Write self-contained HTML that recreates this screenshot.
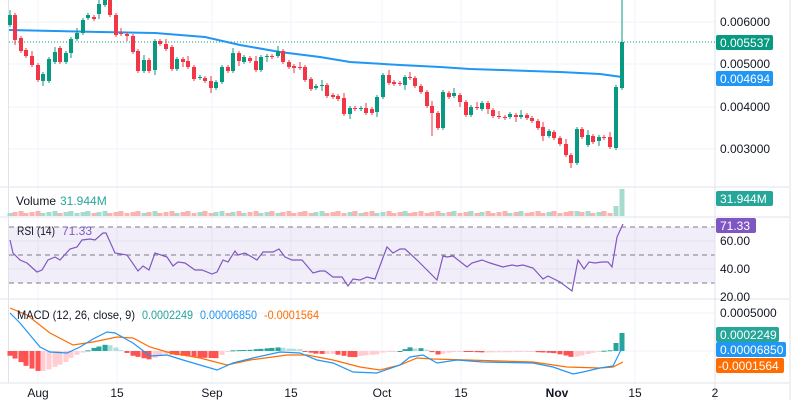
<!DOCTYPE html>
<html><head><meta charset="utf-8"><style>
html,body{margin:0;padding:0;background:#fff;width:800px;height:400px;overflow:hidden}
svg{display:block;font-family:"Liberation Sans",sans-serif}
</style></head><body>
<svg id="s" width="800" height="400" xmlns="http://www.w3.org/2000/svg">
<g stroke="#f0f3fa" stroke-width="1">
<line x1="38" y1="0" x2="38" y2="383"/><line x1="117" y1="0" x2="117" y2="383"/><line x1="212" y1="0" x2="212" y2="383"/><line x1="291" y1="0" x2="291" y2="383"/><line x1="382" y1="0" x2="382" y2="383"/><line x1="461" y1="0" x2="461" y2="383"/><line x1="557" y1="0" x2="557" y2="383"/><line x1="635" y1="0" x2="635" y2="383"/>
<line x1="9" y1="22" x2="715" y2="22"/><line x1="9" y1="64" x2="715" y2="64"/><line x1="9" y1="107" x2="715" y2="107"/><line x1="9" y1="149" x2="715" y2="149"/>
<line x1="9" y1="241" x2="715" y2="241"/><line x1="9" y1="269" x2="715" y2="269"/>
<line x1="9" y1="313" x2="715" y2="313"/><line x1="9" y1="351" x2="715" y2="351"/>
</g>
<rect x="9" y="227" width="706" height="56" fill="#7e57c2" fill-opacity="0.1"/>
<g stroke="#787b86" stroke-width="1" stroke-dasharray="5,4">
<line x1="9" y1="227" x2="715" y2="227"/><line x1="9" y1="255" x2="715" y2="255"/><line x1="9" y1="283" x2="715" y2="283"/>
</g>
<g stroke="#e0e3eb" stroke-width="1">
<line x1="0" y1="187" x2="790" y2="187"/><line x1="0" y1="217" x2="790" y2="217"/><line x1="0" y1="299" x2="790" y2="299"/><line x1="0" y1="383" x2="790" y2="383"/>
<line x1="715" y1="0" x2="715" y2="400"/><line x1="790" y1="0" x2="790" y2="400"/><line x1="8.5" y1="0" x2="8.5" y2="383"/>
</g>
<line x1="9" y1="42" x2="715" y2="42" stroke="#089981" stroke-width="1" stroke-dasharray="1,2"/>
<g id="g"></g>
<g font-size="12" fill="#131722">
<text x="720" y="26">0.006000</text><text x="720" y="68">0.005000</text><text x="720" y="111">0.004000</text><text x="720" y="153">0.003000</text>
<text x="720" y="245">60.00</text><text x="720" y="273">40.00</text><text x="720" y="301">20.00</text>
<text x="720" y="317">0.0005000</text>
</g>
<rect x="716" y="35" width="57" height="15" rx="2" fill="#089981"/><text x="720" y="47" font-size="12" fill="#fff">0.005537</text>
<rect x="716" y="71" width="57" height="15" rx="2" fill="#2196f3"/><text x="720" y="83" font-size="12" fill="#fff">0.004694</text>
<rect x="716" y="191" width="57" height="15" rx="2" fill="#26a69a"/><text x="720" y="203" font-size="12" fill="#fff">31.944M</text>
<rect x="716" y="218" width="40" height="15" rx="2" fill="#7e57c2"/><text x="720" y="230" font-size="12" fill="#fff">71.33</text>
<rect x="716" y="327" width="63" height="15" rx="2" fill="#26a69a"/><text x="720" y="339" font-size="12" fill="#fff">0.0002249</text>
<rect x="716" y="342" width="70" height="15" rx="2" fill="#2196f3"/><text x="720" y="354" font-size="12" fill="#fff">0.00006850</text>
<rect x="716" y="358" width="68" height="15" rx="2" fill="#ff6d00"/><text x="718" y="370" font-size="12" fill="#fff">-0.0001564</text>
<g font-size="12">
<text x="16" y="205" fill="#131722">Volume</text><text x="60" y="205" fill="#26a69a">31.944M</text>
<text x="17" y="235" fill="#131722" textLength="38" lengthAdjust="spacingAndGlyphs">RSI (14)</text><text x="62" y="235" fill="#7e57c2">71.33</text>
<text x="17" y="319" fill="#131722" textLength="118" lengthAdjust="spacingAndGlyphs">MACD (12, 26, close, 9)</text><text x="142" y="319" fill="#26a69a" textLength="51" lengthAdjust="spacingAndGlyphs">0.0002249</text><text x="200" y="319" fill="#2196f3" textLength="57" lengthAdjust="spacingAndGlyphs">0.00006850</text><text x="264" y="319" fill="#ff6d00" textLength="55" lengthAdjust="spacingAndGlyphs">-0.0001564</text>
</g>
<g font-size="12" fill="#131722" text-anchor="middle">
<text x="38" y="397">Aug</text><text x="117" y="397">15</text><text x="212" y="397">Sep</text><text x="291" y="397">15</text><text x="382" y="397">Oct</text><text x="461" y="397">15</text><text x="557" y="397" font-weight="bold">Nov</text><text x="635" y="397">15</text><text x="715" y="397">2</text>
</g>
</svg>
<script>
var C=[[10,25,15],[15,15,40],[21,38,51],[26,50,56],[32,56,65],[38,65,80],[43,81,74],[49,81,59],[55,62,52],[60,48,62],[66,62,53],[71,53,39],[77,39,33],[83,33,20],[88,18,15],[94,17,19],[99,14,4],[105,5,0],[110,0,15],[116,15,35],[121,33,34],[127,34,36],[133,36,52],[138,51,71],[144,71,60],[149,60,71],[155,70,41],[160,41,44],[166,44,49],[172,47,69],[177,69,59],[183,59,62],[188,61,67],[194,67,79],[200,78,77],[205,78,81],[211,81,88],[216,88,82],[222,82,67],[228,67,71],[233,71,53],[239,53,61],[244,62,57],[250,58,61],[256,61,70],[261,70,57],[267,57,56],[272,56,57],[278,56,51],[283,51,62],[289,62,67],[294,66,68],[300,67,68],[305,67,80],[311,79,89],[316,88,86],[322,86,85],[327,85,96],[333,95,97],[338,96,99],[344,98,114],[350,114,108],[355,108,109],[361,109,108],[366,108,113],[372,109,113],[377,112,97],[383,97,75],[389,75,83],[394,82,84],[400,83,84],[405,85,77],[410,77,78],[415,78,86],[421,86,92],[427,92,106],[432,106,113],[438,113,128],[443,128,92],[449,93,97],[454,96,93],[460,95,102],[466,102,115],[471,115,107],[477,107,108],[482,109,103],[488,103,109],[493,110,116],[499,116,117],[505,117,118],[510,117,114],[516,115,117],[521,117,115],[527,115,118],[532,118,121],[538,121,128],[543,127,136],[549,136,131],[554,132,138],[560,138,144],[566,144,155],[571,155,163],[577,163,129],[582,129,137],[588,145,135],[593,136,142],[599,141,137],[604,137,138],[610,137,147],[616,148,87],[622,88,42]];
var RSI=[[10,240],[13,253],[20,260],[27,263],[37,272],[42,270],[48,260],[55,257],[60,260],[70,249],[77,247],[82,240],[90,239],[95,240],[103,233],[106,233],[115,253],[127,255],[138,271],[143,266],[149,270],[155,253],[167,257],[173,266],[178,262],[185,263],[195,270],[202,270],[212,274],[217,272],[223,260],[228,262],[235,251],[238,255],[245,253],[257,260],[263,252],[273,252],[279,249],[285,257],[292,260],[302,260],[313,273],[320,271],[325,271],[333,277],[342,277],[348,286],[353,279],[360,280],[367,277],[375,279],[387,247],[393,253],[400,249],[405,249],[417,260],[427,270],[437,280],[443,256],[447,257],[453,256],[467,267],[472,263],[482,260],[490,263],[503,267],[512,265],[517,266],[523,265],[533,268],[543,279],[548,276],[560,282],[572,291],[578,260],[584,269],[589,262],[595,263],[602,262],[608,262],[612,267],[617,237],[623,224]];
var MA=[[9,30],[100,32],[155,33],[205,37],[240,45],[280,52],[320,57],[350,62],[400,65],[440,67],[470,69],[530,71],[560,72],[600,74],[622,77]];
var M=[[10,313],[20,323],[40,347],[50,352],[67,353],[80,347],[93,339],[107,332],[115,333],[133,343],[150,356],[167,355],[183,360],[200,365],[217,370],[233,363],[253,358],[280,352],[300,353],[317,360],[333,363],[353,372],[377,373],[400,365],[410,357],[423,355],[437,363],[457,360],[483,362],[533,363],[553,367],[573,374],[583,372],[600,368],[613,366],[620,352],[623,345]];
var S=[[10,308],[27,315],[50,333],[73,345],[93,342],[117,337],[133,338],[150,347],[167,352],[200,358],[227,365],[250,360],[287,355],[307,355],[333,360],[360,367],[380,370],[400,365],[417,358],[433,359],[467,360],[533,362],[567,367],[600,368],[613,367],[623,362]];
function it(a,x){for(var i=1;i<a.length;i++){if(x<=a[i][0]){var p=a[i-1],q=a[i];return p[1]+(q[1]-p[1])*(x-p[0])/(q[0]-p[0]);}}return a[a.length-1][1];}
function pl(a){return a.map(function(p){return p[0]+','+p[1]}).join(' ');}
var h='';
var prev=0;
C.forEach(function(c,i){var x=c[0];var up=c[2]<c[1];
 var vh=3+((i*7)%3);if(i==C.length-2)vh=10;if(i==C.length-1)vh=27;if(i==17||i==83||i==102)vh=5;
 h+='<rect x="'+(x-2.5)+'" y="'+(216-vh)+'" width="5" height="'+vh+'" fill="'+(up?'#a5dccf':'#f9b3b1')+'"/>';
 var hv=it(S,x)-it(M,x);var hp=351-hv*0.95;if(x==616)hp=343;if(x==622)hp=333;var v=351-hp;
 var col=v>=0?(v>=prev?'#26a69a':'#b2dfdb'):(v<=prev?'#ff5252':'#ffcdd2');prev=v;
 h+='<rect x="'+(x-2.5)+'" y="'+Math.min(hp,351)+'" width="5" height="'+Math.max(Math.abs(v),1)+'" fill="'+col+'"/>';
});
h+='<polyline points="'+pl(MA)+'" fill="none" stroke="#2196f3" stroke-width="2"/>';
C.forEach(function(c,i){var x=c[0],o=c[1],cl=c[2];var up=cl<o;var col=up?'#089981':'#f23645';
 var t=Math.min(o,cl),b=Math.max(o,cl);var wt=t-2-(i%4==0?3:0),wb=b+2+(i%5==1?3:0);
 if(x==622)wt=0;if(x==432)wb=136;if(x==571)wb=168;
 h+='<line x1="'+x+'" y1="'+wt+'" x2="'+x+'" y2="'+wb+'" stroke="'+col+'" stroke-width="1"/>';
 h+='<rect x="'+(x-2)+'" y="'+t+'" width="4" height="'+Math.max(b-t,1)+'" fill="'+col+'"/>';
});
h+='<polyline points="'+pl(RSI)+'" fill="none" stroke="#7e57c2" stroke-width="1.2"/>';
h+='<polyline points="'+pl(S)+'" fill="none" stroke="#ff6d00" stroke-width="1.2"/>';
h+='<polyline points="'+pl(M)+'" fill="none" stroke="#2196f3" stroke-width="1.2"/>';
document.getElementById('g').innerHTML=h;
</script>
</body></html>
